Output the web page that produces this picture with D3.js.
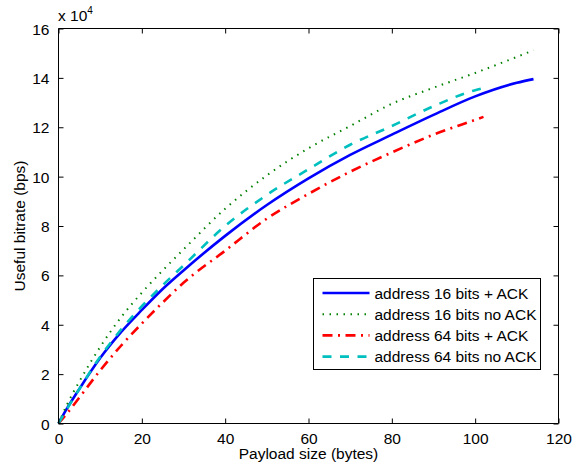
<!DOCTYPE html>
<html>
<head>
<meta charset="utf-8">
<script src="https://cdn.jsdelivr.net/npm/d3@7"></script>
<style>
  html, body { margin: 0; padding: 0; background: #fff; }
  svg { display: block; }
  text { font-family: "Liberation Sans", Arial, Helvetica, sans-serif; fill: #000; }
</style>
</head>
<body>
<script>
// ---- data (bitrate in units of 10^4 bps) ----
const seriesNames = ["address 16 bits + ACK", "address 16 bits no ACK", "address 64 bits + ACK", "address 64 bits no ACK"];
const seriesColors = ["#0000ff", "#008000", "#ff0000", "#00bfbf"];

const payload16 = [0, 2, 5, 10, 15, 20, 25, 30, 40, 50, 60, 70, 80, 90, 100, 110, 114];
const payload64 = [0, 2, 5, 10, 15, 20, 25, 30, 40, 50, 60, 70, 80, 90, 100, 102];

const addr16Ack   = [0, 0.6, 1.4, 2.65, 3.7, 4.6, 5.45, 6.2, 7.6, 8.85, 9.93, 10.88, 11.7, 12.5, 13.25, 13.8, 13.95];
const addr16NoAck = [0, 0.75, 1.7, 3.1, 4.3, 5.3, 6.2, 7.05, 8.7, 10.05, 11.15, 12.05, 12.95, 13.6, 14.2, 14.85, 15.12];
const addr64Ack   = [0, 0.4, 1.05, 2.15, 3.15, 4.05, 4.9, 5.7, 7.0, 8.3, 9.3, 10.2, 10.98, 11.7, 12.3, 12.42];
const addr64NoAck = [0, 0.58, 1.4, 2.7, 3.8, 4.75, 5.6, 6.4, 8.0, 9.26, 10.3, 11.29, 12.05, 12.85, 13.5, 13.58];

const xTicks = [0, 20, 40, 60, 80, 100, 120];
const yTicks = [0, 2, 4, 6, 8, 10, 12, 14, 16];

const xLabel = "Payload size (bytes)";
const yLabel = "Useful bitrate (bps)";

// ---- build ----
const W = 582, H = 468;
const L = 58.5, R = 558.5, T = 28.5, B = 423.5;
const FS = 15.5;

const svg = d3.select("body").append("svg").attr("width", W).attr("height", H);

const x = d3.scaleLinear().domain([0, 120]).range([L, R]);
const y = d3.scaleLinear().domain([0, 16]).range([B, T]);

const series = [
  { name: seriesNames[0], xs: payload16, ys: addr16Ack,   color: seriesColors[0], dash: null,             width: 2.6 },
  { name: seriesNames[1], xs: payload16, ys: addr16NoAck, color: seriesColors[1], dash: "1.5,5.5",        width: 2 },
  { name: seriesNames[2], xs: payload64, ys: addr64Ack,   color: seriesColors[2], dash: "10,5.5,2,5.5",   width: 2.6 },
  { name: seriesNames[3], xs: payload64, ys: addr64NoAck, color: seriesColors[3], dash: "9,8.5",          width: 2.6 }
];

const line = d3.line().x(d => x(d[0])).y(d => y(d[1])).curve(d3.curveMonotoneX);

svg.append("rect").attr("x", L).attr("y", T).attr("width", R - L).attr("height", B - T)
  .attr("fill", "#fff").attr("stroke", "none");

const gl = svg.append("g");
series.forEach(s => {
  const pts = s.xs.map((v, i) => [v, s.ys[i]]);
  gl.append("path").attr("d", line(pts)).attr("fill", "none")
    .attr("stroke", s.color).attr("stroke-width", s.width)
    .attr("stroke-dasharray", s.dash).attr("stroke-linejoin", "round");
});

const tickLen = 5;
const bottomAxis = d3.axisBottom(x).tickValues(xTicks).tickSize(-tickLen).tickPadding(tickLen + 4).tickFormat(d3.format("d"));
const topAxis = d3.axisTop(x).tickValues(xTicks).tickSize(-tickLen).tickFormat("");
const leftAxis = d3.axisLeft(y).tickValues(yTicks).tickSize(-tickLen).tickPadding(tickLen + 4).tickFormat(d3.format("d"));
const rightAxis = d3.axisRight(y).tickValues(yTicks).tickSize(-tickLen).tickFormat("");

function styleAxis(g) {
  g.selectAll(".domain").attr("stroke", "#000").attr("stroke-width", 1);
  g.selectAll(".tick line").attr("stroke", "#000").attr("stroke-width", 1);
  g.selectAll("text").style("font-family", '"Liberation Sans", Arial, sans-serif').style("font-size", FS + "px").attr("fill", "#000");
}

svg.append("g").attr("transform", `translate(0,${B})`).call(bottomAxis).call(styleAxis)
  .call(g => g.selectAll(".domain").attr("d", `M${L},0H${R}`));
svg.append("g").attr("transform", `translate(0,${T})`).call(topAxis).call(styleAxis)
  .call(g => g.selectAll(".domain").attr("d", `M${L},0H${R}`));
svg.append("g").attr("transform", `translate(${L},0)`).call(leftAxis).call(styleAxis)
  .call(g => g.selectAll(".domain").attr("d", `M0,${B}V${T}`))
  .call(g => g.selectAll("text").attr("dy", "0.36em"));
svg.append("g").attr("transform", `translate(${R},0)`).call(rightAxis).call(styleAxis)
  .call(g => g.selectAll(".domain").attr("d", `M0,${B}V${T}`));

const ex = svg.append("text").attr("x", 58).attr("y", 21).style("font-size", FS + "px");
ex.append("tspan").text("x 10");
ex.append("tspan").attr("dy", -7).style("font-size", "10px").text("4");

svg.append("text").attr("x", (L + R) / 2).attr("y", 459).attr("text-anchor", "middle")
  .style("font-size", FS + "px").text(xLabel);
svg.append("text").attr("transform", `translate(25,${(T + B) / 2}) rotate(-90)`).attr("text-anchor", "middle")
  .style("font-size", FS + "px").text(yLabel);

const lgX = 313.5, lgY = 278.5, lgW = 227, lgH = 91;
const lg = svg.append("g");
lg.append("rect").attr("x", lgX).attr("y", lgY).attr("width", lgW).attr("height", lgH)
  .attr("fill", "#fff").attr("stroke", "#000").attr("stroke-width", 1);
series.forEach((s, i) => {
  const yy = lgY + 14.5 + i * 21.2;
  lg.append("line").attr("x1", lgX + 9).attr("x2", lgX + 56).attr("y1", yy).attr("y2", yy)
    .attr("stroke", s.color).attr("stroke-width", s.width).attr("stroke-dasharray", s.dash);
  lg.append("text").attr("x", lgX + 61).attr("y", yy).attr("dy", "0.36em")
    .style("font-size", FS + "px").text(s.name);
});
</script>
</body>
</html>
